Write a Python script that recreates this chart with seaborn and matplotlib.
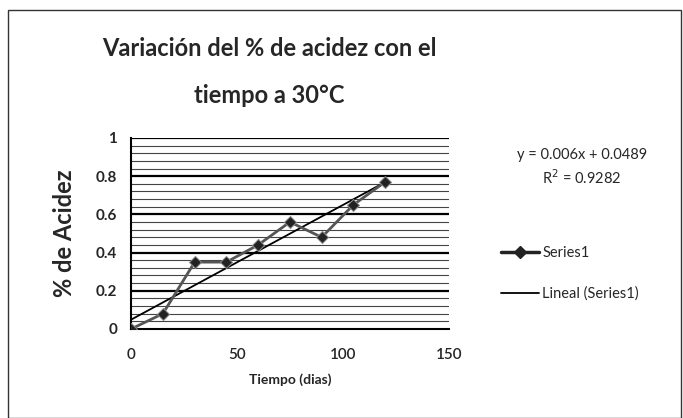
import matplotlib
matplotlib.use("Agg")
import matplotlib.pyplot as plt
import seaborn as sns
import numpy as np
import pandas as pd
from matplotlib.patches import Rectangle
from matplotlib.lines import Line2D

# Data
tiempo = [0, 15, 30, 45, 60, 75, 90, 105, 120]
acidez = [0.0, 0.08, 0.35, 0.35, 0.44, 0.56, 0.48, 0.65, 0.77]
slope = 0.006
intercept = 0.0489
r2 = 0.9282
x_ticks = [0, 50, 100, 150]
y_ticks = [0, 0.2, 0.4, 0.6, 0.8, 1]
y_tick_labels = ["0", "0.2", "0.4", "0.6", "0.8", "1"]

sns.set_style("white")
plt.rcParams['font.family'] = ['Lato', 'DejaVu Sans']

df = pd.DataFrame({"Tiempo": tiempo, "Acidez": acidez})

fig = plt.figure(figsize=(6.83, 4.18), dpi=100)
ax = fig.add_axes([0.192, 0.213, 0.465, 0.457])

# chart area border
fig.patches.append(Rectangle((0.012, 0.0), 0.985, 0.975, transform=fig.transFigure,
                             fill=False, edgecolor="#333333", linewidth=1.0))

# gridlines
for v in np.arange(0.04, 1.0, 0.04):
    if abs(v / 0.2 - round(v / 0.2)) < 1e-6:
        continue
    ax.axhline(v, color="#444444", linewidth=0.8, zorder=0)
for v in y_ticks[1:]:
    ax.axhline(v, color="black", linewidth=1.6, zorder=0)

# trend line
xt = np.array([0, max(tiempo)])
ax.plot(xt, slope * xt + intercept, color="black", linewidth=1.3, zorder=2)

sns.lineplot(data=df, x="Tiempo", y="Acidez", ax=ax, color="#555555", linewidth=2.0,
             marker="D", markersize=6, markerfacecolor="#222222", markeredgecolor="#888888",
             zorder=3)

ax.set_xlim(0, 150)
ax.set_ylim(0, 1)
ax.set_xticks(x_ticks)
ax.set_xticklabels([str(t) for t in x_ticks], fontsize=11, fontweight="semibold")
ax.set_yticks(y_ticks)
ax.set_yticklabels(y_tick_labels, fontsize=11, fontweight="bold")
ax.tick_params(axis="both", direction="out", length=4, width=1.2, color="black", pad=6)
ax.tick_params(axis="x", pad=10)
for s in ["top", "right"]:
    ax.spines[s].set_visible(False)
ax.spines["left"].set_color("black")
ax.spines["left"].set_linewidth(1.5)
ax.spines["bottom"].set_color("black")
ax.spines["bottom"].set_linewidth(1.5)

ax.set_xlabel("Tiempo (dias)", fontsize=10, fontweight="bold", labelpad=8)
ax.set_ylabel("% de Acidez", fontsize=17, fontweight="bold", labelpad=14)

fig.text(0.394, 0.885, "Variación del % de acidez con el", ha="center", va="center",
         fontsize=17, fontweight="bold")
fig.text(0.394, 0.772, "tiempo a 30°C", ha="center", va="center",
         fontsize=17, fontweight="bold")

fig.text(0.852, 0.628, f"y = {slope}x + {intercept}", ha="center", va="center", fontsize=10.5)
fig.text(0.852, 0.574, f"R$^2$ = {r2}", ha="center", va="center", fontsize=10.5)

handles = [Line2D([], [], color="#222222", linewidth=2.5, marker="D", markersize=6,
                  markerfacecolor="#222222"),
           Line2D([], [], color="black", linewidth=1.3)]
fig.legend(handles, ["Series1", "Lineal (Series1)"], loc="center left",
           bbox_to_anchor=(0.715, 0.345), frameon=False, fontsize=10.5,
           handlelength=2.6, labelspacing=1.8, handletextpad=0.2)

fig.savefig("out.png", dpi=100)
